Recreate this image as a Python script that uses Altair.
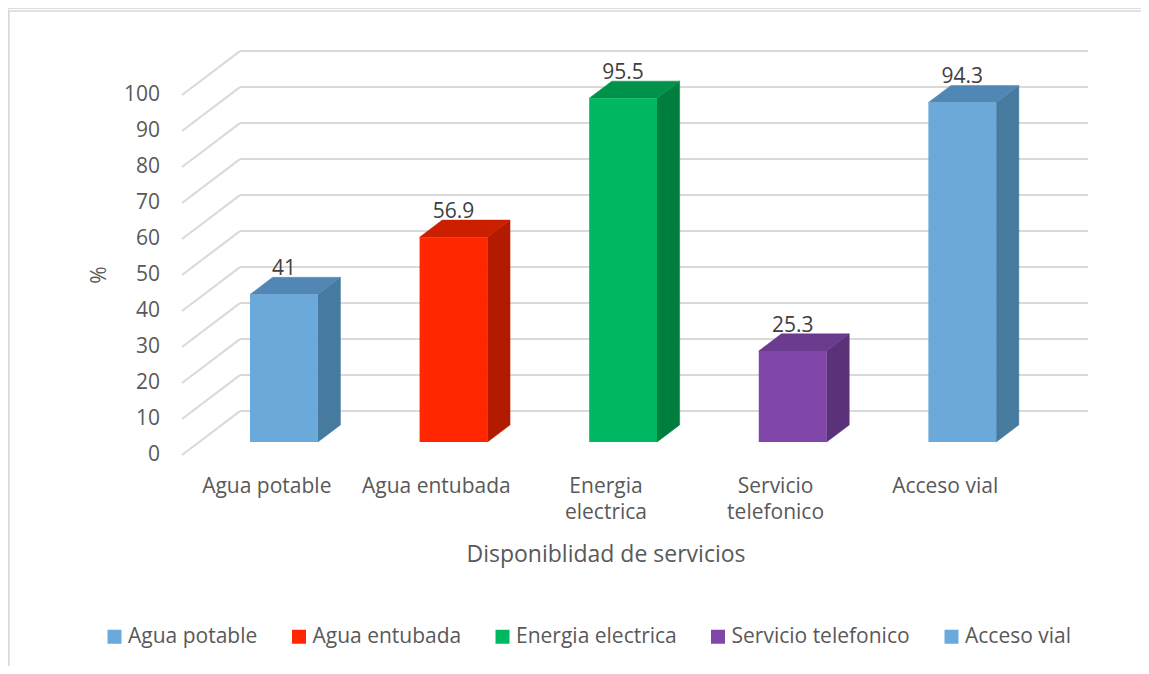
import altair as alt
import pandas as pd

# ---------------- data ----------------
categorias = ["Agua potable", "Agua entubada", "Energia electrica",
              "Servicio telefonico", "Acceso vial"]
etiquetas_x = ["Agua potable", "Agua entubada", "Energia\nelectrica",
               "Servicio\ntelefonico", "Acceso vial"]
valores = [41, 56.9, 95.5, 25.3, 94.3]
ticks_y = [0, 10, 20, 30, 40, 50, 60, 70, 80, 90, 100]
color_frente = ["#6AA9DA", "#FF2600", "#00B862", "#8046AA", "#6AA9DA"]
color_lado = ["#467A9E", "#B31B00", "#007E3E", "#5B3179", "#467A9E"]
color_tope = ["#5087B4", "#CB1F00", "#00924A", "#6A3B8E", "#5087B4"]
titulo_x = "Disponiblidad de servicios"
titulo_y = "%"

# ---------------- layout / projection parameters ----------------
W, H = 1133, 658
X_DOM = [-1.0259, 5.6546]      # category units
Y_DOM = [-58.61, 124.17]       # value units
KX = 0.342                     # full-depth horizontal shift (category units)
KY = 12.2                      # full-depth vertical shift (value units)
D0, D1 = 0.295, 0.685          # bar front / back depth
HALF = 0.2                     # half bar width
FONT = "Open Sans"
TXT = "#595959"

xs = alt.Scale(domain=X_DOM, nice=False, zero=False)
ys = alt.Scale(domain=Y_DOM, nice=False, zero=False)

# front faces
front = pd.DataFrame({
    "cat": categorias,
    "x0": [i + 0.5 - HALF + D0 * KX for i in range(5)],
    "x1": [i + 0.5 + HALF + D0 * KX for i in range(5)],
    "y0": [D0 * KY] * 5,
    "y1": [v + D0 * KY for v in valores],
    "xc": [i + 0.5 + D0 * KX for i in range(5)],
    "yl": [v + D1 * KY for v in valores],
    "lab": [("%g" % v) for v in valores],
})

side_rows, top_rows = [], []
dd = D1 - D0
for i, (c, v) in enumerate(zip(categorias, valores)):
    xf0 = i + 0.5 - HALF + D0 * KX
    xf1 = i + 0.5 + HALF + D0 * KX
    side_rows.append({"cat": c, "x": xf1, "lo": D0 * KY, "hi": v + D0 * KY, "col": color_lado[i]})
    side_rows.append({"cat": c, "x": xf1 + dd * KX, "lo": D1 * KY, "hi": v + D1 * KY, "col": color_lado[i]})
    top_rows.append({"cat": c, "y": v + D0 * KY, "xl": xf0, "xr": xf1, "col": color_tope[i]})
    top_rows.append({"cat": c, "y": v + D1 * KY, "xl": xf0 + dd * KX, "xr": xf1 + dd * KX, "col": color_tope[i]})
side = pd.DataFrame(side_rows)
top = pd.DataFrame(top_rows)

grid = pd.DataFrame({
    "t": ticks_y,
    "tb": [t + KY for t in ticks_y],
    "xa": [0.0] * len(ticks_y),
    "xb": [KX] * len(ticks_y),
    "xe": [5 + KX] * len(ticks_y),
    "xl": [-0.13] * len(ticks_y),
    "lab": [str(t) for t in ticks_y],
})

cats = pd.DataFrame({
    "x": [i + 0.5 for i in range(5)],
    "y": [-10.56] * 5,
    "lab": etiquetas_x,
})

titles = pd.DataFrame({"x": [2.5], "y": [-29.7], "lab": [titulo_x]})
ytitle = pd.DataFrame({"x": [-0.483], "y": [50], "lab": [titulo_y]})

# ---------------- layers ----------------
frame_top = alt.Chart(pd.DataFrame({"a": [0]})).mark_rule(color="#D9D9D9", strokeWidth=1.5).encode(
    x=alt.value(1), x2=alt.value(W), y=alt.value(3))
frame_left = alt.Chart(pd.DataFrame({"a": [0]})).mark_rule(color="#D9D9D9", strokeWidth=1.5).encode(
    x=alt.value(1), y=alt.value(3), y2=alt.value(H))

grid_back = alt.Chart(grid).mark_rule(color="#D9D9D9", strokeWidth=2).encode(
    x=alt.X("xb:Q", scale=xs, axis=None), x2="xe:Q",
    y=alt.Y("tb:Q", scale=ys, axis=None))
grid_floor = alt.Chart(grid).mark_rule(color="#D9D9D9", strokeWidth=2).encode(
    x=alt.X("xa:Q", scale=xs, axis=None), x2="xb:Q",
    y=alt.Y("t:Q", scale=ys, axis=None), y2="tb:Q")

side_l = alt.Chart(side).mark_area(orient="vertical", strokeWidth=0.5).encode(
    x=alt.X("x:Q", scale=xs, axis=None),
    y=alt.Y("lo:Q", scale=ys, axis=None), y2="hi:Q",
    detail="cat:N",
    color=alt.Color("col:N", scale=None),
    stroke=alt.Stroke("col:N", scale=None))
top_l = alt.Chart(top).mark_area(orient="horizontal", strokeWidth=0.5).encode(
    y=alt.Y("y:Q", scale=ys, axis=None),
    x=alt.X("xl:Q", scale=xs, axis=None), x2="xr:Q",
    detail="cat:N",
    color=alt.Color("col:N", scale=None),
    stroke=alt.Stroke("col:N", scale=None))

front_l = alt.Chart(front).mark_rect().encode(
    x=alt.X("x0:Q", scale=xs, axis=None), x2="x1:Q",
    y=alt.Y("y0:Q", scale=ys, axis=None), y2="y1:Q",
    color=alt.Color("cat:N",
                    scale=alt.Scale(domain=categorias, range=color_frente),
                    legend=alt.Legend(orient="none", legendX=96, legendY=618,
                                      direction="horizontal", columns=5, title=None,
                                      symbolType="square", symbolSize=196,
                                      symbolStrokeWidth=0, labelLimit=0,
                                      labelFont=FONT, labelFontSize=21,
                                      labelColor=TXT, labelOffset=3,
                                      columnPadding=30.5, padding=0)))

val_l = alt.Chart(front).mark_text(font=FONT, fontSize=21, color="#404040",
                                   baseline="alphabetic", dy=-2).encode(
    x=alt.X("xc:Q", scale=xs, axis=None),
    y=alt.Y("yl:Q", scale=ys, axis=None),
    text="lab:N")

tick_l = alt.Chart(grid).mark_text(font=FONT, fontSize=21, color=TXT,
                                   align="right", baseline="middle").encode(
    x=alt.X("xl:Q", scale=xs, axis=None),
    y=alt.Y("t:Q", scale=ys, axis=None),
    text="lab:N")

cat_l = alt.Chart(cats).mark_text(font=FONT, fontSize=21, color=TXT,
                                  align="center", baseline="alphabetic",
                                  lineBreak="\n", lineHeight=26).encode(
    x=alt.X("x:Q", scale=xs, axis=None),
    y=alt.Y("y:Q", scale=ys, axis=None),
    text="lab:N")

title_l = alt.Chart(titles).mark_text(font=FONT, fontSize=23, color=TXT,
                                      align="center", baseline="alphabetic").encode(
    x=alt.X("x:Q", scale=xs, axis=None),
    y=alt.Y("y:Q", scale=ys, axis=None),
    text="lab:N")

ytitle_l = alt.Chart(ytitle).mark_text(font=FONT, fontSize=21, color=TXT,
                                       align="center", baseline="middle", angle=270).encode(
    x=alt.X("x:Q", scale=xs, axis=None),
    y=alt.Y("y:Q", scale=ys, axis=None),
    text="lab:N")

chart = alt.layer(
    frame_top, frame_left, grid_back, grid_floor,
    side_l, top_l, front_l, val_l, tick_l, cat_l, title_l, ytitle_l
).resolve_scale(color="independent", stroke="independent").properties(
    width=W, height=H,
    autosize=alt.AutoSizeParams(type="none"),
    padding=0,
).configure_view(stroke=None).configure(background="white")

chart.save("out.html", embed_options={"renderer": "svg", "actions": False})
